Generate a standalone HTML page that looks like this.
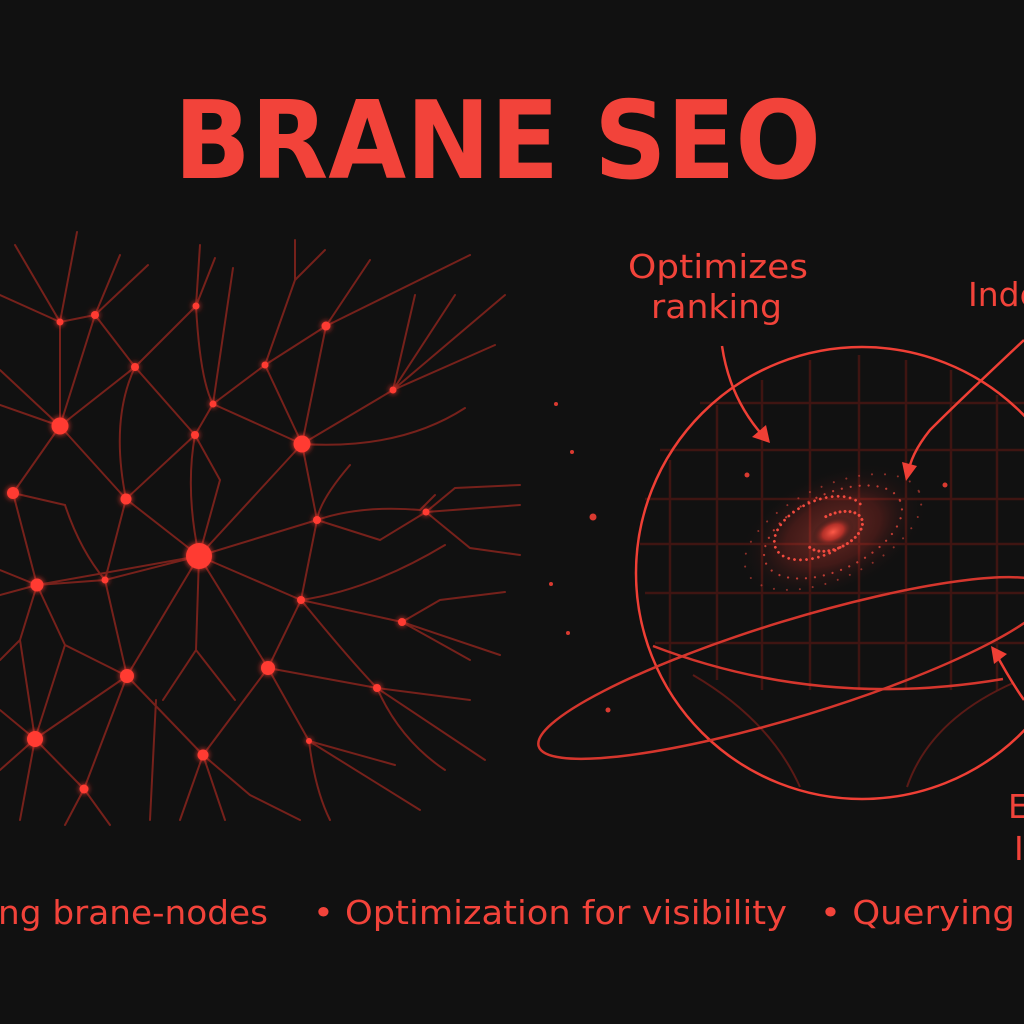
<!DOCTYPE html>
<html><head><meta charset="utf-8"><style>
html,body{margin:0;padding:0;background:#111;}
svg{display:block}
text{font-family:"DejaVu Sans","Liberation Sans",sans-serif;fill:#f2433a}
</style></head><body>
<svg width="1024" height="1024" viewBox="0 0 1024 1024" xmlns="http://www.w3.org/2000/svg">
<defs>
<filter id="glow" x="-100%" y="-100%" width="300%" height="300%"><feGaussianBlur stdDeviation="3" result="b"/><feMerge><feMergeNode in="b"/><feMergeNode in="SourceGraphic"/></feMerge></filter>
<radialGradient id="core"><stop offset="0" stop-color="#ff5a48"/><stop offset="0.5" stop-color="#d8352c" stop-opacity="0.7"/><stop offset="1" stop-color="#111" stop-opacity="0"/></radialGradient>
</defs>
<rect width="1024" height="1024" fill="#111"/>
<text x="174" y="178" font-size="108" font-weight="bold" textLength="647" lengthAdjust="spacingAndGlyphs">BRANE SEO</text>

<!-- network edges -->
<g stroke="#76211b" stroke-width="2" fill="none" stroke-linecap="round">
<path d="M60,322 L95,315 M60,322 L60,426 M95,315 L60,426 M60,322 L15,245 M60,322 L77,232 M95,315 L120,255 M95,315 L148,265 M95,315 L135,367 M0,295 L60,322"/>
<path d="M196,306 L135,367 M196,306 L200,245 M196,306 L215,258 M196,306 Q200,380 213,404 M213,404 L233,268 M213,404 L265,365 M213,404 L195,435 M135,367 L195,435 M135,367 Q110,420 126,499 M135,367 L60,426"/>
<path d="M265,365 L326,326 M265,365 L295,280 L295,240 M295,280 L325,250 M326,326 L370,260 M326,326 L302,444 M326,326 L470,255 M393,390 L302,444 M393,390 L415,295 M393,390 L455,295 M393,390 L495,345 M393,390 L505,295 M265,365 L302,444 M213,404 L302,444"/>
<path d="M60,426 L0,370 M60,426 L13,493 M60,426 L126,499 M0,405 L60,426 M195,435 L126,499 M195,435 Q185,490 199,556 M195,435 L220,480 L199,556 M302,444 L199,556 M302,444 Q400,450 465,408 M302,444 L317,520"/>
<path d="M13,493 L65,505 Q80,550 105,580 M13,493 L37,585 M126,499 L199,556 M126,499 L105,580 M317,520 L199,556 M317,520 L301,600 M317,520 Q360,505 420,510 L435,495 M317,520 L380,540 L426,512 M426,512 L455,488 L520,485 M426,512 L520,505 M426,512 L470,548 L520,555 M317,520 Q320,500 350,465"/>
<path d="M199,556 L37,585 M199,556 L105,580 M199,556 L127,676 M199,556 L196,650 L163,700 M196,650 L235,700 M199,556 L268,668 M199,556 L301,600 M301,600 Q370,590 445,545 M37,585 L0,570 M37,585 L0,595 M105,580 L37,585"/>
<path d="M37,585 L20,640 L35,739 M37,585 L65,645 L127,676 M65,645 L35,739 M20,640 L0,660 M105,580 L127,676 M301,600 L268,668 M301,600 L402,622 M402,622 L440,600 L505,592 M402,622 L500,655 M402,622 L470,660 M301,600 Q350,660 377,688 M377,688 L470,700 M377,688 L485,760 M377,688 Q400,740 445,770"/>
<path d="M127,676 L35,739 M127,676 L203,755 M127,676 L84,789 M268,668 L377,688 M268,668 L203,755 M268,668 L309,741 M309,741 L395,765 M309,741 Q315,790 330,820 M309,741 L420,810 M156,700 L150,820 M35,739 L84,789 M35,739 L0,710 M35,739 L20,820 M35,739 L0,770"/>
<path d="M203,755 L180,820 M203,755 L225,820 M203,755 L250,795 L300,820 M84,789 L110,825 M84,789 L65,825"/>
</g>
<!-- nodes -->
<g fill="#ff3b30" filter="url(#glow)">
<circle cx="60" cy="322" r="3.5"/><circle cx="95" cy="315" r="4"/><circle cx="196" cy="306" r="3.5"/><circle cx="135" cy="367" r="4"/><circle cx="265" cy="365" r="3.5"/><circle cx="326" cy="326" r="4.5"/><circle cx="393" cy="390" r="3.5"/><circle cx="60" cy="426" r="8.5"/><circle cx="213" cy="404" r="3.5"/><circle cx="195" cy="435" r="4"/><circle cx="302" cy="444" r="8.5"/><circle cx="13" cy="493" r="6"/><circle cx="126" cy="499" r="5.5"/><circle cx="317" cy="520" r="4"/><circle cx="426" cy="512" r="3.5"/><circle cx="199" cy="556" r="13"/><circle cx="37" cy="585" r="6.5"/><circle cx="105" cy="580" r="3.5"/><circle cx="301" cy="600" r="4"/><circle cx="402" cy="622" r="4"/><circle cx="268" cy="668" r="7"/><circle cx="127" cy="676" r="7"/><circle cx="377" cy="688" r="4"/><circle cx="35" cy="739" r="8"/><circle cx="203" cy="755" r="5.5"/><circle cx="309" cy="741" r="3"/><circle cx="84" cy="789" r="4.5"/>
</g>

<!-- right diagram -->
<g stroke="#3f1512" stroke-width="2.5">
<path d="M670,460 V690 M717,405 V680 M762,380 V690 M810,360 V690 M859,355 V690 M906,360 V690 M951,370 V690 M997,395 V690"/>
<path d="M700,403 H1024 M660,450 H1024 M645,499 H1024 M640,544 H1024 M645,593 H1024 M655,643 H1024"/>
</g>
<g stroke="#5a1a16" stroke-width="2" fill="none">
<path d="M693,675 Q770,720 800,787"/><path d="M907,787 Q930,720 1013,683"/>
</g>
<g fill="#d93a30">
<circle cx="556" cy="404" r="2"/><circle cx="572" cy="452" r="2"/><circle cx="593" cy="517" r="3.5"/><circle cx="551" cy="584" r="2"/><circle cx="568" cy="633" r="2"/><circle cx="608" cy="710" r="2.5"/><circle cx="747" cy="475" r="2.5"/><circle cx="945" cy="485" r="2.5"/>
</g>
<!-- galaxy -->
<ellipse cx="833" cy="532" rx="100" ry="60" fill="url(#core)" opacity="0.35" transform="rotate(-25 833 532)"/>
<ellipse cx="833" cy="532" rx="22" ry="14" fill="url(#core)" transform="rotate(-25 833 532)"/>
<g fill="none" stroke="#f24a3e" stroke-linecap="round" transform="rotate(-25 833 532)">
<path d="M833,515 A30,17 0 1 1 805,535" stroke-width="3" stroke-dasharray="0 5"/>
<path d="M833,549 A48,27 0 1 1 870,520" stroke-width="2.8" stroke-dasharray="0 6"/>
<ellipse cx="833" cy="532" rx="74" ry="38" stroke-width="2.2" stroke-dasharray="0 9" opacity="0.75"/>
<ellipse cx="833" cy="532" rx="95" ry="46" stroke-width="2" stroke-dasharray="0 13" opacity="0.55"/>
</g>
<g fill="none" stroke="#ef3f35" stroke-width="2.5">
<circle cx="862" cy="573" r="226"/>
<ellipse cx="795" cy="668" rx="268" ry="48" transform="rotate(-17 795 668)" stroke="#d5362d"/>
<path d="M653,646 Q820,710 1003,679" stroke="#d5362d"/>
<path d="M722,346 Q730,400 765,438"/>
<path d="M1024,340 Q960,400 930,430 Q910,455 908,475"/>
<path d="M1024,700 Q1010,680 995,652"/>
</g>
<g fill="#ef3f35">
<polygon points="770,443 752,437 766,425"/>
<polygon points="906,481 902,462 917,466"/>
<polygon points="991,646 1007,654 994,664"/>
</g>
<text x="628" y="278" font-size="33" textLength="180" lengthAdjust="spacingAndGlyphs">Optimizes</text>
<text x="651" y="318" font-size="33" textLength="131" lengthAdjust="spacingAndGlyphs">ranking</text>
<text x="968" y="306" font-size="33">Inde</text>
<text x="1008" y="818" font-size="33">E</text>
<text x="1014" y="860" font-size="33">I</text>
<text x="-2" y="924" font-size="33" textLength="270" lengthAdjust="spacingAndGlyphs">ng brane-nodes</text>
<text x="313" y="924" font-size="33" textLength="474" lengthAdjust="spacingAndGlyphs">• Optimization for visibility</text>
<text x="820" y="924" font-size="33" textLength="228" lengthAdjust="spacingAndGlyphs">• Querying a</text>
</svg>
</body></html>
